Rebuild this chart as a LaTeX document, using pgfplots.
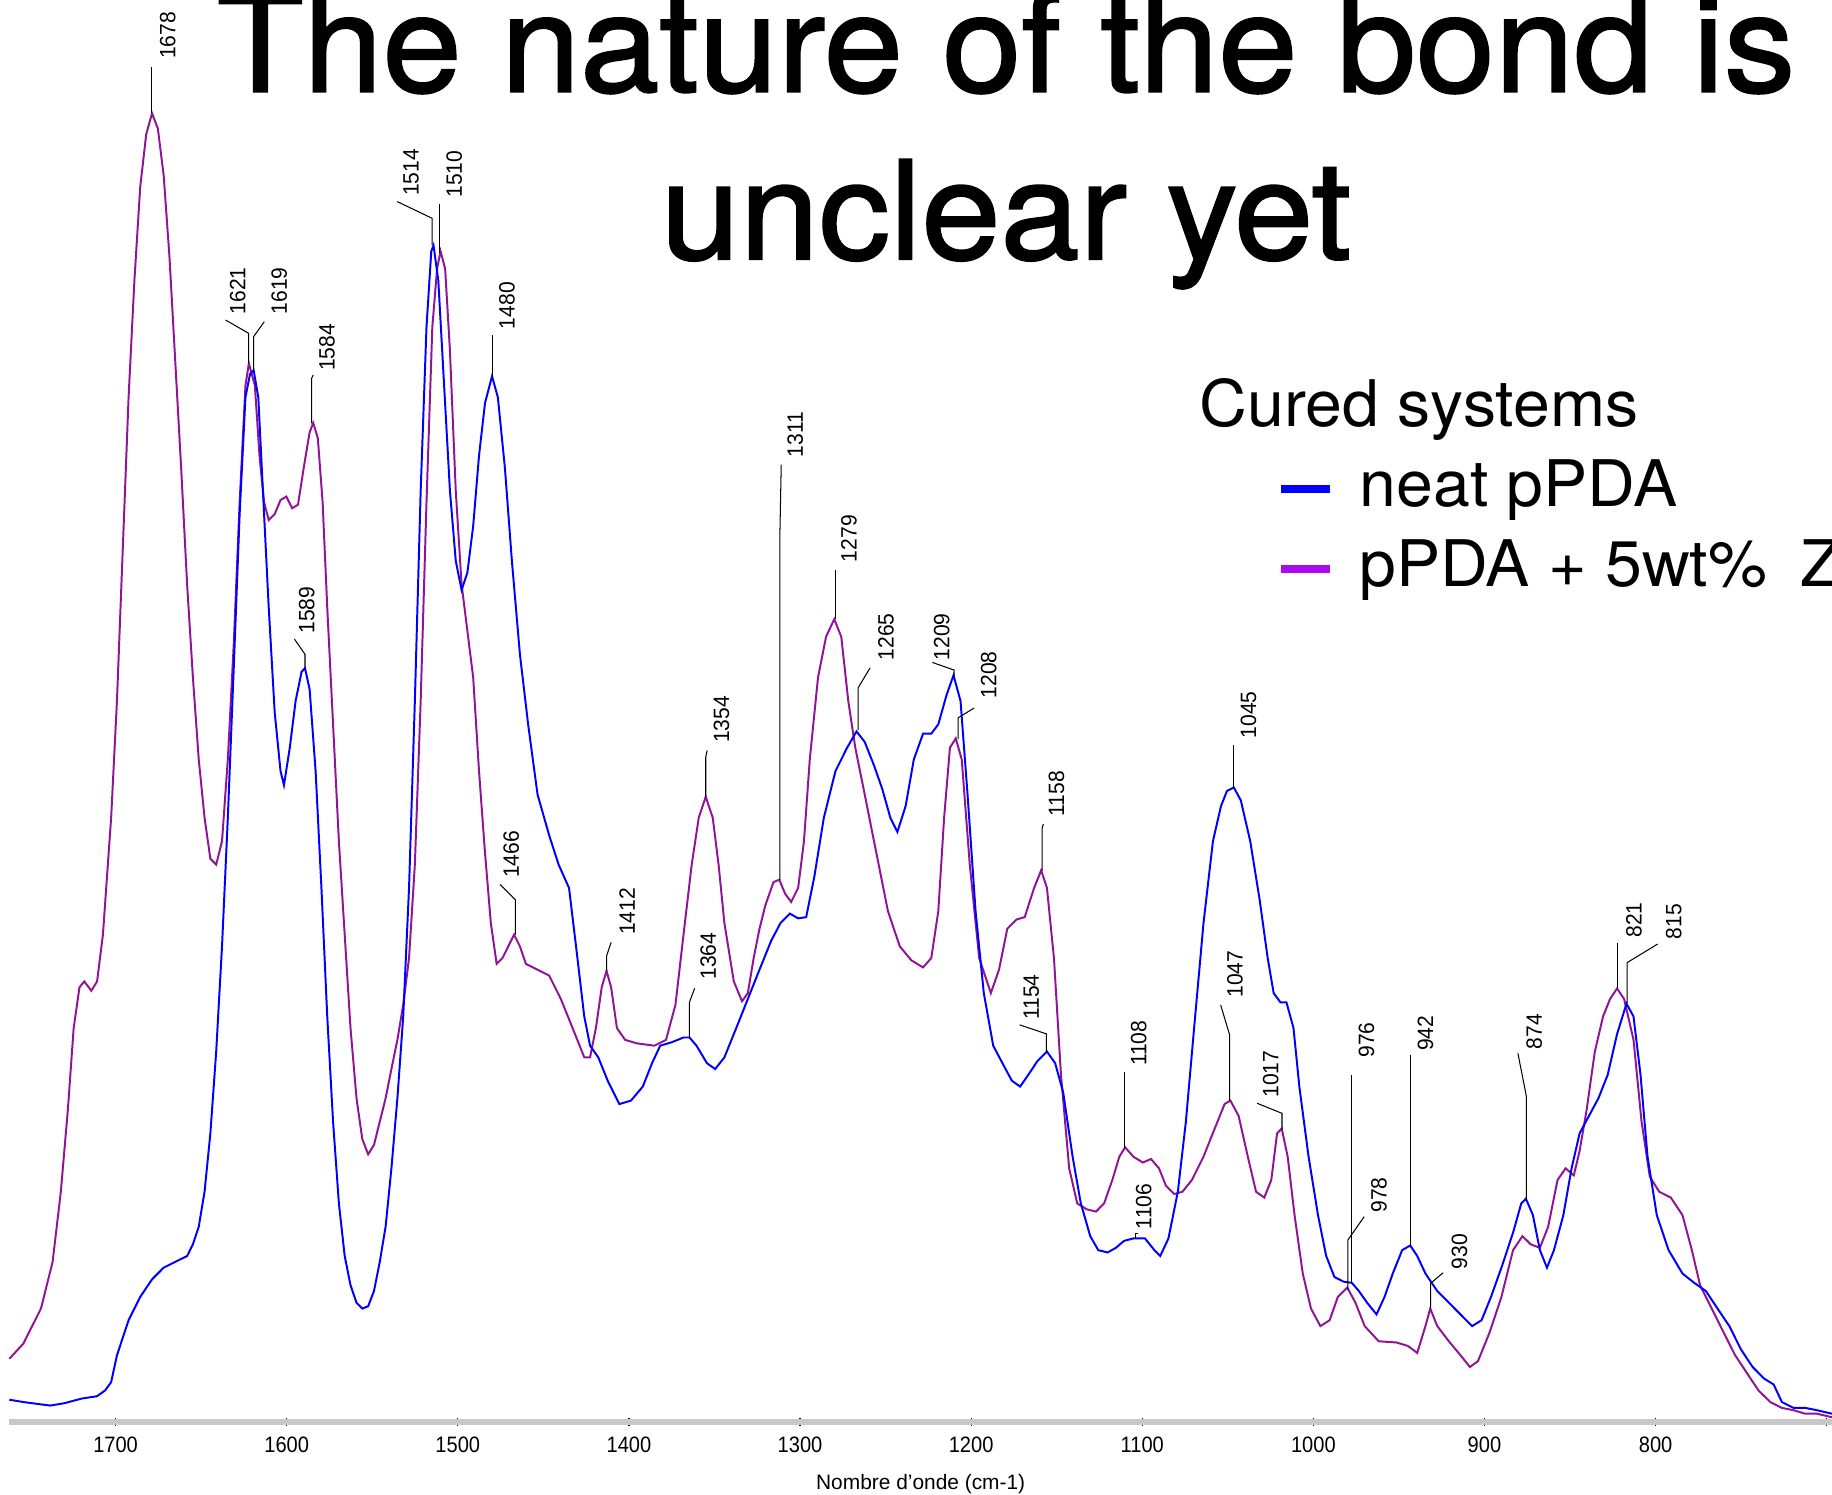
\documentclass[border=0pt]{standalone}
\usepackage{pgfplots}
\pgfplotsset{compat=1.18}
\usepackage{fontspec}
\setmainfont{Liberation Sans}
\newfontfamily\titlefont[FakeBold=1.5,FakeStretch=1.04]{TeX Gyre Heros}
\newfontfamily\legfont[FakeStretch=1.03]{TeX Gyre Heros}
\newfontfamily\tickfont[FakeStretch=0.9]{Liberation Sans}
\newfontfamily\pkfont[FakeStretch=0.95]{Liberation Sans}
\definecolor{cblue}{RGB}{0,0,255}
\definecolor{cpurple}{RGB}{145,20,150}
\definecolor{lpurple}{RGB}{170,10,240}
\definecolor{axisgray}{RGB}{200,200,200}
\newcommand{\pklab}{\pkfont\fontsize{5.4}{6}\selectfont}
% peak annotation: all arguments in picture pixels of the reference
\newcommand{\pk}[8]{%
  \draw[black, line width=0.25pt] (axis cs:{1767.53-0.68283*#1},{1217-#2}) -- (axis cs:{1767.53-0.68283*#1},{1217-#3}) -- (axis cs:{1767.53-0.68283*#4},{1217-#5});
  \node[rotate=90, anchor=south west, inner sep=0pt, font=\pklab] at (axis cs:{1767.53-0.68283*#6},{1217-#7}) {#8};
}
\begin{document}
\begin{tikzpicture}
\begin{axis}[
  at={(0,0)}, anchor=south west,
  scale only axis, width=15.60cm, height=12.17cm,
  xmin=696.9, xmax=1762.1, ymin=0, ymax=1217,
  x dir=reverse,
  axis x line=bottom, axis y line=none,
  axis line style={draw=axisgray, line width=1.45pt, -},
  xtick={700,800,900,1000,1100,1200,1300,1400,1500,1600,1700},
  xticklabels={,800,900,1000,1100,1200,1300,1400,1500,1600,1700},
  minor x tick num=3,
  tick align=center,
  major tick length=0.068cm,
  minor tick length=0.03cm,
  every tick/.style={black, line width=0.3pt},
  xticklabel style={font=\tickfont\fontsize{5.43}{6}\selectfont, inner sep=0pt, anchor=north},
  xticklabel shift=0.09cm,
  clip=false,
]
% purple: pPDA + 5wt% Z
\addplot[cpurple, line width=0.48pt] coordinates {
(1762.1,54) (1753.9,67) (1743.6,97) (1736.8,137) (1732.0,197) (1727.9,267) (1724.5,337) (1721.1,372) (1718.3,377) (1714.2,369) (1710.8,377) (1707.4,417) (1702.6,517) (1699.2,617) (1695.8,747) (1692.4,877) (1689.0,977) (1685.6,1057) (1682.1,1102) (1678.7,1120) (1675.3,1107) (1671.9,1067) (1668.5,997) (1665.1,907) (1661.7,817) (1658.2,717) (1654.8,637) (1651.4,567) (1648.0,517) (1644.6,482) (1641.2,477) (1637.8,497) (1634.4,567) (1630.9,667) (1627.5,787) (1624.1,887) (1622.1,906) (1618.6,887) (1615.9,827) (1613.2,787) (1610.5,772) (1607.0,777) (1603.6,789) (1600.2,792) (1596.8,782) (1593.4,785) (1590.0,817) (1586.6,847) (1584.5,855) (1581.8,842) (1579.0,787) (1576.3,697) (1572.9,597) (1569.5,497) (1566.1,417) (1562.7,337) (1559.2,277) (1555.8,242) (1552.4,229) (1549.0,237) (1545.6,257) (1542.2,277) (1538.8,302) (1535.3,327) (1531.9,357) (1528.5,397) (1525.1,477) (1521.7,617) (1518.3,787) (1514.9,937) (1512.1,987) (1510.1,1002) (1507.4,987) (1504.6,917) (1501.2,797) (1497.8,717) (1494.4,677) (1491.0,637) (1487.6,557) (1484.1,487) (1480.7,427) (1477.3,392) (1473.9,397) (1470.5,407) (1467.1,417) (1463.7,407) (1460.2,392) (1453.4,387) (1446.6,382) (1439.8,362) (1432.9,337) (1426.1,312) (1422.7,312) (1419.3,337) (1415.9,372) (1413.1,386) (1410.4,372) (1407.0,337) (1402.2,327) (1395.4,324) (1385.1,322) (1378.3,327) (1372.8,357) (1368.1,417) (1363.3,477) (1359.2,517) (1355.1,535) (1351.0,517) (1347.6,477) (1344.2,427) (1338.7,377) (1333.9,360) (1330.5,367) (1327.1,397) (1323.7,422) (1320.3,442) (1315.5,462) (1312.1,464) (1308.7,452) (1305.2,445) (1301.1,457) (1297.7,497) (1294.3,567) (1289.5,637) (1284.8,672) (1280.0,687) (1275.9,672) (1271.8,617) (1267.7,577) (1262.2,537) (1255.4,487) (1248.6,437) (1241.7,407) (1234.9,395) (1228.1,389) (1223.3,397) (1219.2,437) (1215.8,517) (1212.4,577) (1209.0,585) (1205.5,567) (1200.8,477) (1195.3,397) (1188.5,367) (1183.7,387) (1178.9,422) (1173.5,430) (1168.7,432) (1163.2,457) (1159.1,472) (1155.7,457) (1151.6,397) (1147.5,297) (1142.7,217) (1138.0,187) (1132.5,182) (1127.0,180) (1122.3,187) (1117.5,207) (1113.4,227) (1110.0,235) (1105.2,227) (1099.7,222) (1094.9,225) (1090.2,217) (1086.1,202) (1081.3,195) (1076.5,197) (1071.0,207) (1064.2,227) (1057.4,252) (1051.9,272) (1048.5,275) (1043.7,262) (1038.3,227) (1033.5,197) (1028.7,192) (1024.6,207) (1021.2,247) (1018.5,251) (1015.0,227) (1011.0,177) (1006.2,127) (1001.4,97) (995.9,82) (990.5,87) (985.7,107) (980.2,115) (975.4,102) (970.0,82) (961.8,69) (951.5,68) (944.7,65) (939.3,59) (934.5,82) (931.7,97) (927.6,82) (920.8,69) (914.0,57) (908.5,47) (903.8,52) (896.9,77) (890.1,107) (883.3,147) (877.8,159) (873.0,152) (867.6,149) (862.8,167) (857.3,207) (852.6,217) (847.8,211) (844.4,232) (840.3,267) (835.5,317) (830.7,347) (826.6,362) (822.5,371) (818.4,362) (812.9,327) (808.2,257) (803.4,210) (797.9,197) (791.1,192) (784.3,177) (778.8,147) (774.0,117) (767.2,97) (760.4,77) (753.5,57) (746.7,42) (739.9,27) (733.0,17) (726.2,12) (719.4,10) (712.6,7) (705.7,7) (696.9,4)
};
% blue: neat pPDA
\addplot[cblue, line width=0.48pt] coordinates {
(1762.1,19) (1753.9,17) (1743.6,15) (1738.2,14) (1730.0,16) (1719.7,20) (1710.8,22) (1706.1,27) (1702.6,34) (1699.2,57) (1692.4,87) (1685.6,107) (1678.7,122) (1671.9,132) (1665.1,137) (1658.2,142) (1654.8,152) (1651.4,167) (1648.0,197) (1644.6,247) (1641.2,317) (1637.8,407) (1634.4,517) (1630.9,647) (1627.5,777) (1624.1,877) (1621.4,897) (1619.3,900) (1616.6,877) (1613.9,797) (1610.5,697) (1607.0,607) (1603.6,557) (1601.6,545) (1598.2,577) (1594.8,617) (1591.3,642) (1589.3,645) (1586.6,627) (1583.1,557) (1579.7,457) (1576.3,347) (1572.9,257) (1569.5,187) (1566.1,142) (1562.7,117) (1559.2,102) (1555.8,97) (1552.4,99) (1549.0,112) (1545.6,137) (1542.2,167) (1538.8,217) (1535.3,277) (1531.9,347) (1528.5,457) (1525.1,617) (1521.7,797) (1518.3,937) (1515.5,1002) (1514.2,1007) (1511.4,977) (1508.0,887) (1504.6,797) (1501.2,737) (1497.8,712) (1494.4,727) (1491.0,767) (1487.6,827) (1484.1,872) (1480.0,895) (1476.6,877) (1472.5,817) (1468.4,737) (1463.7,657) (1458.9,597) (1453.4,537) (1446.6,502) (1441.1,477) (1435.0,457) (1430.9,407) (1426.1,347) (1422.7,322) (1417.9,312) (1412.4,292) (1405.6,272) (1398.8,275) (1391.9,287) (1386.5,307) (1381.7,322) (1374.9,325) (1368.1,329) (1364.6,329) (1360.5,322) (1354.4,307) (1349.6,302) (1344.2,312) (1337.3,337) (1330.5,362) (1323.7,387) (1316.8,412) (1311.4,427) (1305.9,435) (1301.1,431) (1296.4,432) (1291.6,467) (1286.1,517) (1279.3,557) (1272.5,577) (1267.0,591) (1262.2,582) (1256.8,562) (1252.0,542) (1247.2,517) (1243.1,505) (1238.3,527) (1233.5,567) (1228.1,589) (1223.3,589) (1219.2,597) (1214.4,622) (1210.3,639) (1206.2,617) (1202.1,537) (1197.4,437) (1192.6,367) (1187.1,322) (1181.7,307) (1176.2,292) (1171.4,287) (1166.6,297) (1161.2,309) (1155.7,317) (1150.9,307) (1146.2,282) (1140.7,227) (1135.9,187) (1130.4,159) (1125.7,147) (1120.2,145) (1115.4,149) (1110.6,155) (1105.2,157) (1098.4,157) (1092.9,147) (1089.5,142) (1084.7,157) (1079.2,197) (1074.5,257) (1069.7,337) (1064.2,427) (1058.7,497) (1054.0,527) (1050.5,540) (1046.5,543) (1042.4,532) (1036.9,497) (1031.4,447) (1026.7,397) (1023.2,367) (1019.2,359) (1015.7,359) (1011.6,337) (1008.2,287) (1002.8,227) (997.3,177) (992.5,142) (987.7,124) (982.3,120) (977.5,119) (973.4,112) (968.6,102) (963.1,92) (958.4,107) (953.6,127) (948.1,147) (943.4,151) (939.3,142) (934.5,127) (927.6,112) (920.8,102) (914.0,92) (907.2,82) (901.7,87) (896.2,107) (890.1,132) (883.3,162) (878.5,187) (875.8,191) (871.7,177) (867.6,147) (863.5,132) (859.4,147) (853.9,177) (849.1,217) (844.4,247) (838.9,262) (833.4,277) (828.0,297) (822.5,332) (817.0,358) (812.9,347) (808.8,297) (804.7,227) (799.3,177) (792.4,147) (784.3,127) (777.4,119) (770.6,112) (763.8,97) (756.9,82) (750.1,62) (743.3,47) (736.5,37) (731.0,32) (726.2,17) (719.4,12) (712.6,12) (705.7,10) (696.9,7)
};
% peak labels
\pk{130}{97}{57}{130}{57}{151}{51}{1678}
\pk{212.8}{311}{285.3}{193}{273.9}{210.9}{269.6}{1621}
\pk{217}{316.7}{288.2}{226.2}{275.3}{246.4}{269.6}{1619}
\pk{266.7}{362.3}{323.8}{268}{321}{287.3}{318.1}{1584}
\pk{261}{572}{560}{252}{547}{270}{543}{1589}
\pk{369.9}{209.7}{186.9}{340}{172.6}{359.1}{168.3}{1514}
\pk{376.3}{216.8}{174.6}{376.3}{174.6}{396.2}{169.7}{1510}
\pk{421.4}{322.4}{286.7}{421.4}{286.7}{441.3}{282.4}{1480}
\pk{441}{800}{770}{428}{757}{445}{752}{1466}
\pk{519.2}{831.4}{818}{523}{806.6}{544}{800.8}{1412}
\pk{589.9}{888.7}{858.2}{594.5}{845.9}{613.6}{839}{1364}
\pk{604}{682.4}{648}{605.2}{642.3}{625}{636.5}{1354}
\pk{667.5}{753}{455}{668.6}{397.7}{688}{392}{1311}
\pk{714.9}{529.5}{487.5}{714.9}{487.5}{734}{481.8}{1279}
\pk{734.4}{625}{588.7}{744.7}{571.6}{765.7}{565.8}{1265}
\pk{816.5}{579.2}{573.5}{798}{567}{813.4}{565.8}{1209}
\pk{820}{632.7}{614.4}{833.7}{606}{853.6}{598.3}{1208}
\pk{891.8}{745.4}{709}{893}{705.3}{911.6}{699.6}{1158}
\pk{895.6}{900.2}{884.9}{872.7}{877.2}{889.9}{873.4}{1154}
\pk{962.7}{982.3}{917.2}{962.7}{917.2}{982}{913}{1108}
\pk{972}{1060}{1056}{974}{1056}{986.2}{1052.7}{1106}
\pk{1052.4}{942}{885.8}{1044.7}{860.2}{1064.3}{854.5}{1047}
\pk{1056}{674}{637.3}{1056}{637.3}{1076}{632.7}{1045}
\pk{1097.2}{966.6}{952.9}{1075.9}{944.3}{1095}{940.1}{1017}
\pk{1157}{1098.4}{920}{1157}{920}{1177}{905.8}{976}
\pk{1153.6}{1104.1}{1061.3}{1167.6}{1041.3}{1187.7}{1038.5}{978}
\pk{1207.4}{1066.4}{903}{1207.4}{903}{1227.4}{900.1}{942}
\pk{1224.4}{1119.8}{1098.4}{1235.1}{1089.3}{1256.5}{1087}{930}
\pk{1306.4}{1026.5}{938.6}{1299.1}{901.5}{1320.5}{898.7}{874}
\pk{1384.1}{845.9}{806.8}{1384.1}{806.8}{1405.9}{803.1}{821}
\pk{1392.6}{858.7}{823.9}{1418.7}{808}{1440}{804.5}{815}
\end{axis}
% x label
\node[anchor=base, inner sep=0pt, font=\fontsize{5.09}{6}\selectfont] at (7.80,-0.58) {Nombre d'onde (cm-1)};
% title
\node[anchor=base, inner sep=0pt, font=\titlefont\fontsize{33.29}{40}\selectfont] at (8.53,11.385) {The nature of the bond is};
\node[anchor=base, inner sep=0pt, font=\titlefont\fontsize{33.29}{40}\selectfont] at (8.53,9.953) {unclear yet};
% legend
\node[anchor=base west, inner sep=0pt, font=\legfont\fontsize{15.65}{18}\selectfont] at (10.18,8.52) {Cured systems};
\draw[cblue, line width=2pt] (10.884,7.984) -- (11.30,7.984);
\node[anchor=base west, inner sep=0pt, font=\legfont\fontsize{15.65}{18}\selectfont] at (11.55,7.834) {neat pPDA};
\draw[lpurple, line width=2pt] (10.884,7.30) -- (11.30,7.30);
\node[anchor=base west, inner sep=0pt, font=\legfont\fontsize{15.65}{18}\selectfont] at (11.55,7.15) {pPDA + 5wt\%\hspace{0.13cm} Z};
\pgfresetboundingbox
\path[use as bounding box] (-0.08,-0.62) rectangle (15.60,12.17);
\end{tikzpicture}
\end{document}
